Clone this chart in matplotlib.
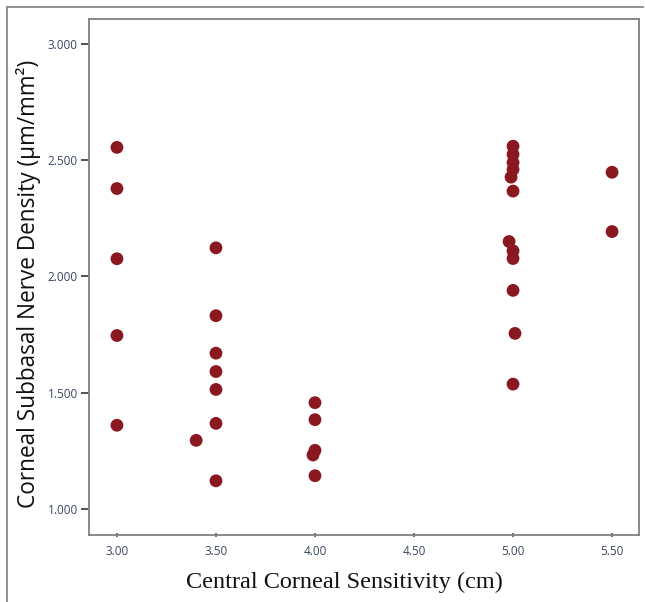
import matplotlib
matplotlib.use("Agg")
import matplotlib.pyplot as plt
from matplotlib.lines import Line2D

# sensitivity (cm) vs nerve density
sensitivity = [3.00, 3.00, 3.00, 3.00, 3.00,
               3.50, 3.50, 3.50, 3.50, 3.50, 3.50, 3.50, 3.40,
               4.00, 4.00, 4.00, 3.99, 4.00,
               5.00, 5.00, 5.00, 5.00, 4.99, 5.00, 4.98, 5.00, 5.00, 5.00, 5.01, 5.00,
               5.50, 5.50]
density = [2.555, 2.378, 2.076, 1.746, 1.360,
           2.123, 1.831, 1.670, 1.591, 1.514, 1.368, 1.121, 1.295,
           1.457, 1.384, 1.252, 1.232, 1.143,
           2.560, 2.525, 2.490, 2.460, 2.427, 2.367, 2.150, 2.110, 2.077, 1.940, 1.755, 1.537,
           2.448, 2.193]

xticks = [3.0, 3.5, 4.0, 4.5, 5.0, 5.5]
yticks = [1.0, 1.5, 2.0, 2.5, 3.0]

fig = plt.figure(figsize=(6.45, 6.02), dpi=100)
ax = fig.add_axes([0.138, 0.1113, 0.8527, 0.8571])

ax.scatter(sensitivity, density, s=85, color="#8a1820", edgecolors="none", zorder=3)

ax.set_xlim(2.859, 5.636)
ax.set_ylim(0.888, 3.107)

ax.set_xticks(xticks)
ax.set_xticklabels([f"{v:.2f}" for v in xticks])
ax.set_yticks(yticks)
ax.set_yticklabels([f"{v:.3f}" for v in yticks])

tick_col = "#3b4660"
ax.tick_params(axis="y", direction="out", length=6, width=1.2, color="#333333",
               labelsize=8.5, labelcolor=tick_col, pad=2)
ax.tick_params(axis="x", direction="inout", length=3, width=1.2, color="#555555",
               labelsize=8.5, labelcolor=tick_col, pad=6)
for lab in ax.get_xticklabels() + ax.get_yticklabels():
    lab.set_family("Open Sans")

for sp in ax.spines.values():
    sp.set_color("#808080")
    sp.set_linewidth(1.3)

ax.set_ylabel("Corneal Subbasal Nerve Density (µm/mm²)", fontsize=16.3,
              family="Open Sans", color="#111111")
ax.yaxis.set_label_coords(-0.087, 0.486)
ax.set_xlabel("Central Corneal Sensitivity (cm)", fontsize=17.5,
              family="Liberation Serif", color="#111111")
ax.xaxis.set_label_coords(0.465, -0.071)

# outer frame of the figure panel
fig.add_artist(Line2D([7 / 645, 7 / 645], [0, 1 - 7 / 602], transform=fig.transFigure,
                      color="#888888", lw=1.3))
fig.add_artist(Line2D([7 / 645, 643 / 645], [1 - 7 / 602, 1 - 7 / 602], transform=fig.transFigure,
                      color="#888888", lw=1.3))

fig.savefig("out.png", dpi=100)
